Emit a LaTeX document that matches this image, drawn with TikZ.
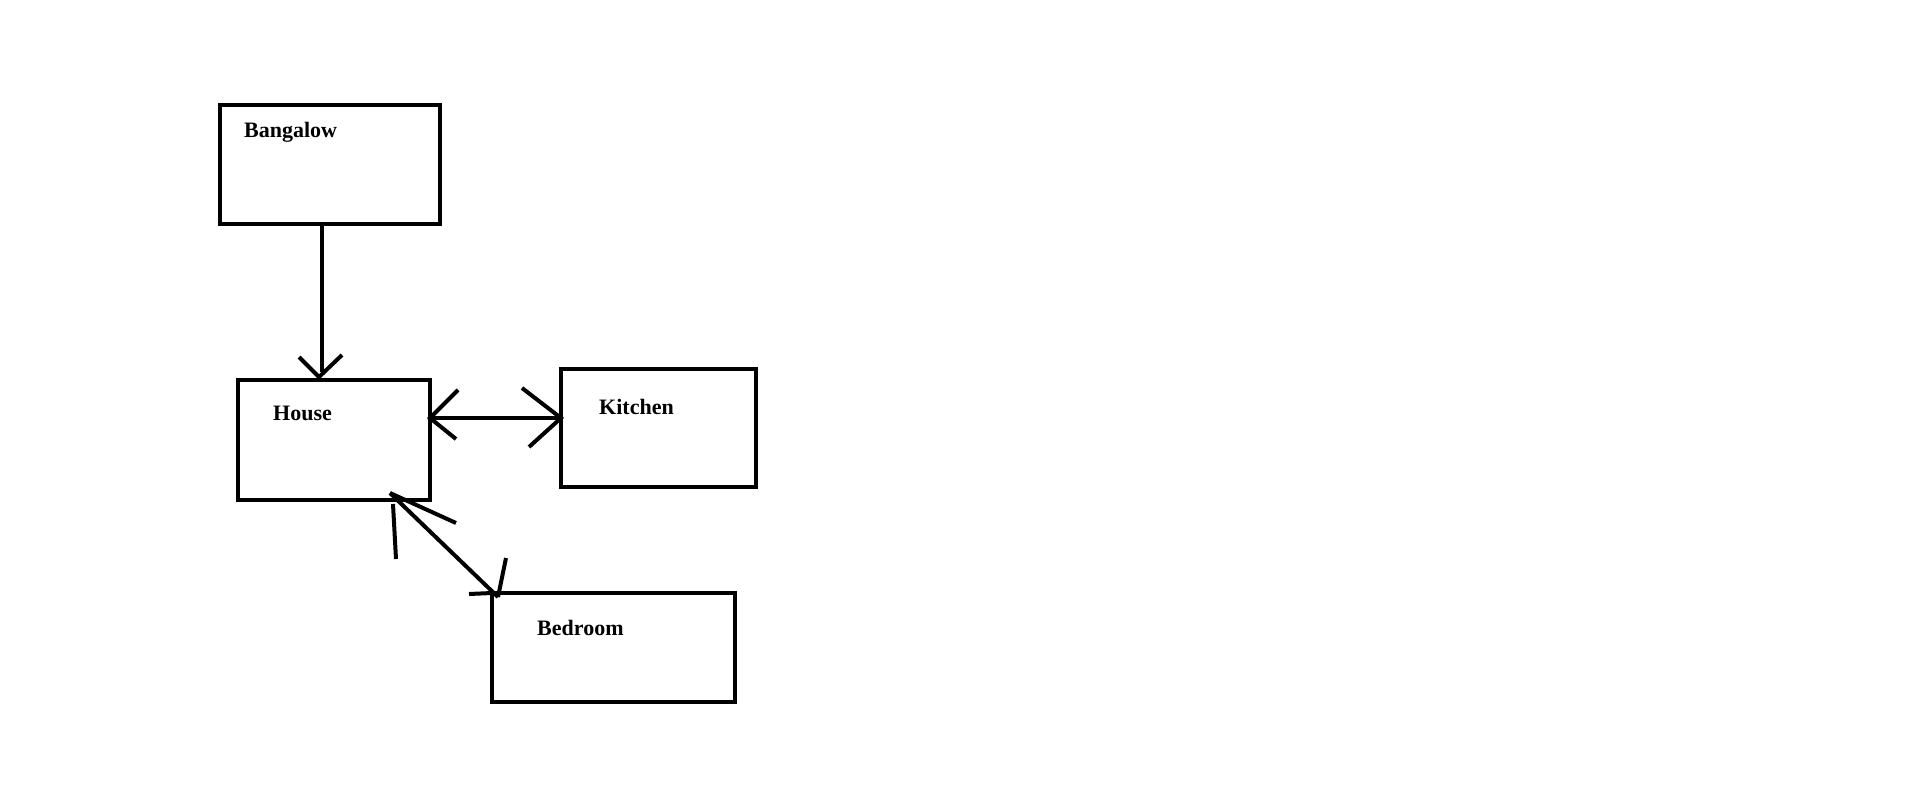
\documentclass[tikz,border=0pt]{standalone}
\usepackage{fontspec}
\setmainfont{Liberation Serif}
\begin{document}
\begin{tikzpicture}[x=1pt,y=-1pt,
  box/.style={draw=black,line width=4pt,inner sep=0pt,outer sep=0pt,rectangle},
  conn/.style={draw=black,line width=4pt},
  lbl/.style={anchor=base west,inner sep=0pt,font=\bfseries\fontsize{22}{26}\selectfont}]
\useasboundingbox[fill=white] (0,0) rectangle (1914,795);
% boxes
\node[box,minimum width=220pt,minimum height=119pt] (bang) at (330,164.5) {};
\node[box,minimum width=192pt,minimum height=120pt] (house) at (334,440) {};
\node[box,minimum width=195pt,minimum height=118pt] (kitchen) at (658.5,428) {};
\node[box,minimum width=243pt,minimum height=109pt] (bed) at (613.5,647.5) {};
% labels
\node[lbl] (tbang) at (244,137) {Bangalow};
\node[lbl] (thouse) at (273,420) {House};
\node[lbl] (tkitchen) at (599,414) {Kitchen};
\node[lbl] (tbed) at (537,635) {Bedroom};
% Bangalow -> House
\coordinate (bhTip) at (319,377);
\coordinate (bhA) at (299,357);
\coordinate (bhB) at (342,355);
\draw[conn] (bang.south -| 322,0) -- (322,372);
\draw[conn] (bhA) -- (bhTip) -- (bhB);
% House <-> Kitchen
\coordinate (hk) at (0,418);
\coordinate (hkA) at (458,390);
\coordinate (hkB) at (456,439);
\coordinate (khA) at (522,388);
\coordinate (khB) at (529,447);
\draw[conn] (house.east |- hk) -- (kitchen.west |- hk);
\draw[conn] (hkA) -- (house.east |- hk) -- (hkB);
\draw[conn] (khA) -- (kitchen.west |- hk) -- (khB);
% House <-> Bedroom
\coordinate (hbTip) at (390,493);
\coordinate (bdTip) at (498,597);
\coordinate (hbA1) at (393,504);
\coordinate (hbA2) at (396,559);
\coordinate (hbB1) at (398,499);
\coordinate (hbB2) at (456,523);
\coordinate (bdA) at (506,558);
\coordinate (bdB) at (469,594);
\draw[conn] (hbTip) -- (bdTip);
\draw[conn] (hbA1) -- (hbA2);
\draw[conn] (hbTip) -- (hbB2);
\draw[conn] (bdA) -- (bdTip);
\draw[conn] (bdB) -- (bed.north west);
\end{tikzpicture}
\end{document}
